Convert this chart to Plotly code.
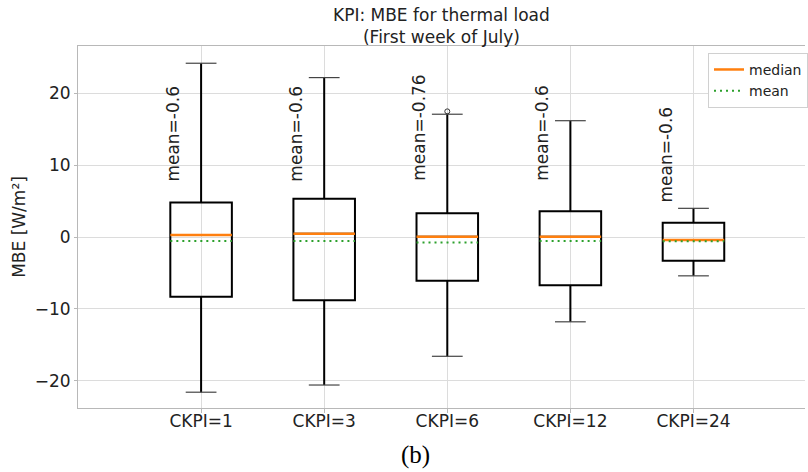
import plotly.graph_objects as go

categories = ["CKPI=1", "CKPI=3", "CKPI=6", "CKPI=12", "CKPI=24"]
q1 = [-8.3, -8.8, -6.1, -6.7, -3.3]
median = [0.3, 0.45, 0.05, 0.05, -0.4]
q3 = [4.8, 5.35, 3.3, 3.6, 2.0]
lower = [-21.6, -20.6, -16.6, -11.8, -5.4]
upper = [24.2, 22.2, 17.1, 16.2, 4.0]
mean = [-0.55, -0.55, -0.76, -0.55, -0.6]
mean_labels = ["-0.6", "-0.6", "-0.76", "-0.6", "-0.6"]
outlier_cat = [3]
outlier_val = [17.5]

pos = list(range(1, len(categories) + 1))
half = 0.25
font = "DejaVu Sans"

fig = go.Figure()
fig.add_trace(go.Box(
    x=pos, q1=q1, median=median, q3=q3, lowerfence=lower, upperfence=upper,
    width=2 * half, whiskerwidth=0, boxpoints=False,
    line=dict(color="black", width=2), fillcolor="rgba(255,255,255,0)",
    showlegend=False, hoverinfo="skip",
))

def seg(vals, h):
    xs, ys = [], []
    for p, v in zip(pos, vals):
        xs += [p - h, p + h, None]
        ys += [v, v, None]
    return xs, ys

cx1, cy1 = seg(upper, half / 2)
cx2, cy2 = seg(lower, half / 2)
fig.add_trace(go.Scatter(x=cx1 + cx2, y=cy1 + cy2, mode="lines", showlegend=False,
                         hoverinfo="skip", line=dict(color="#444", width=1.2)))

mx, my = seg(median, half)
fig.add_trace(go.Scatter(x=mx, y=my, mode="lines", name="median",
                         line=dict(color="#ff7f0e", width=2.5)))
ex, ey = seg(mean, half)
fig.add_trace(go.Scatter(x=ex, y=ey, mode="lines", name="mean",
                         line=dict(color="#2ca02c", width=2, dash="2px,4px")))
fig.add_trace(go.Scatter(x=outlier_cat, y=outlier_val, mode="markers", showlegend=False,
                         marker=dict(symbol="circle-open", size=5, color="#333", line=dict(width=1))))

for p, lab, up in zip(pos, mean_labels, upper):
    fig.add_annotation(x=p - 0.225, y=min(7.5, up + 0.5), xref="x", yref="y",
                       text="mean=" + lab, textangle=-90, showarrow=False,
                       xanchor="center", yanchor="bottom",
                       font=dict(family=font, size=17, color="#222"))

fig.add_annotation(x=0.5, y=1, xref="paper", yref="paper", yanchor="bottom", yshift=-3,
                   text="KPI: MBE for thermal load<br>(First week of July)",
                   showarrow=False, font=dict(family=font, size=17, color="#222"))
fig.add_annotation(x=0.464, y=-0.13, xref="paper", yref="paper", yanchor="middle",
                   text="(b)", showarrow=False,
                   font=dict(family="Liberation Serif", size=25, color="black"))

fig.update_layout(
    width=808, height=472,
    margin=dict(l=78, r=0, t=46, b=64),
    paper_bgcolor="white", plot_bgcolor="white",
    font=dict(family=font, size=17, color="#222"),
    legend=dict(x=0.867, y=0.981, xanchor="left", yanchor="top",
                bgcolor="white", bordercolor="#d0d0d0", borderwidth=1,
                font=dict(size=14), tracegroupgap=0),
    xaxis=dict(range=[0, 5.906], tickvals=pos, ticktext=categories,
               showgrid=True, gridcolor="#dcdcdc", gridwidth=1,
               showline=True, mirror=True, linecolor="#b8b8b8", linewidth=1,
               ticks="outside", ticklen=4, tickcolor="#b8b8b8", zeroline=False,
               ticklabelstandoff=-6),
    yaxis=dict(range=[-23.8, 26.6], tickvals=[-20, -10, 0, 10, 20],
               showgrid=True, gridcolor="#dcdcdc", gridwidth=1,
               showline=True, linecolor="#b8b8b8", linewidth=1,
               ticks="outside", ticklen=3, tickcolor="#b8b8b8", zeroline=False,
               title=dict(text="MBE [W/m²]", standoff=4, font=dict(size=17))),
    showlegend=True,
)

fig.write_html("out.html")
